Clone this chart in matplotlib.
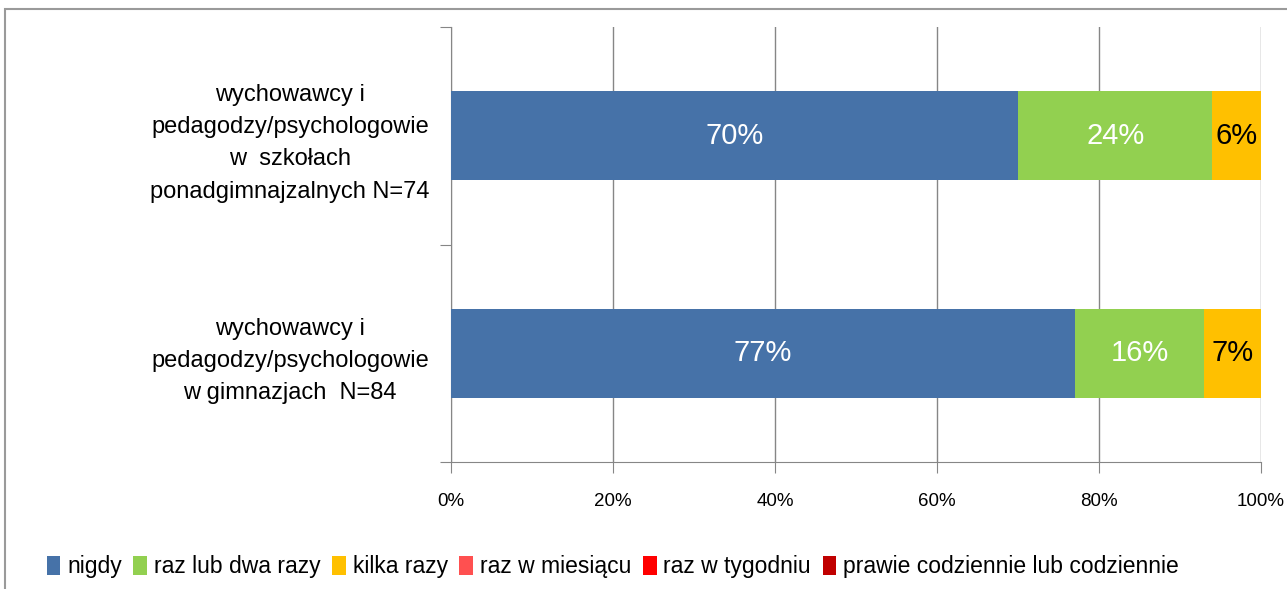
import numpy as np
import matplotlib.pyplot as plt
from matplotlib.patches import Rectangle

plt.rcParams['font.family'] = ['Liberation Sans', 'DejaVu Sans']

# grupy respondentów (od dołu do góry)
groups = ["wychowawcy i\npedagodzy/psychologowie\nw gimnazjach  N=84",
          "wychowawcy i\npedagodzy/psychologowie\nw  szkołach\nponadgimnajzalnych N=74"]

answers = ["nigdy", "raz lub dwa razy", "kilka razy", "raz w miesiącu",
           "raz w tygodniu", "prawie codziennie lub codziennie"]
colors = ["#4672A8", "#92D050", "#FFC000", "#FF5050", "#FF0000", "#C00000"]

# odsetki odpowiedzi w kolejności grup
nigdy = [77, 70]
raz_dwa = [16, 24]
kilka = [7, 6]
miesiac = [0, 0]
tydzien = [0, 0]
codziennie = [0, 0]
series = [nigdy, raz_dwa, kilka, miesiac, tydzien, codziennie]
label_colors = ["white", "white", "black", "black", "white", "white"]

fig = plt.figure(figsize=(12.87, 5.89), dpi=100)
ax = fig.add_axes([451 / 1287, 1 - 462 / 589, 810 / 1287, 435 / 589])

y = np.arange(len(groups))
left = np.zeros(len(groups))
for vals, col, lc, name in zip(series, colors, label_colors, answers):
    vals = np.array(vals, dtype=float)
    ax.barh(y, vals, left=left, height=0.41, color=col, label=name, zorder=3)
    for yi, v, l in zip(y, vals, left):
        if v > 0:
            ax.text(l + v / 2, yi, f"{v:.0f}%", ha="center", va="center",
                    color=lc, fontsize=21, zorder=4)
    left += vals

ax.set_xlim(0, 100)
ax.set_ylim(-0.5, 1.5)
ax.set_xticks(np.arange(0, 101, 20))
ax.set_xticklabels([f"{t}%" for t in range(0, 101, 20)], fontsize=13.5)
ax.set_yticks([-0.5, 0.5, 1.5])
ax.set_yticklabels([])
ax.set_yticks(y, minor=True)
ax.set_yticklabels(groups, minor=True, fontsize=17, ha="center", linespacing=1.6)
ax.tick_params(axis="y", which="minor", length=0, pad=116)
ax.tick_params(axis="y", which="major", length=8, color="#868686")
ax.tick_params(axis="x", length=8, color="#868686", pad=14)
ax.grid(axis="x", color="#868686", linewidth=1, zorder=0)
for s in ["top", "right"]:
    ax.spines[s].set_visible(False)
for s in ["left", "bottom"]:
    ax.spines[s].set_color("#868686")

leg = fig.legend(loc="lower left", bbox_to_anchor=(26 / 1287, -0.017), ncol=6,
                 frameon=False, fontsize=16.5, handlelength=0.6, handleheight=0.9,
                 handletextpad=0.3, columnspacing=0.5)

# ramka wykresu
fig.patches.append(Rectangle((5 / 1287, -0.1), 1.2, 1 - 9 / 589 + 0.1,
                             transform=fig.transFigure, fill=False,
                             edgecolor="#9a9a9a", linewidth=1.5))

fig.savefig("out.png", dpi=100)
